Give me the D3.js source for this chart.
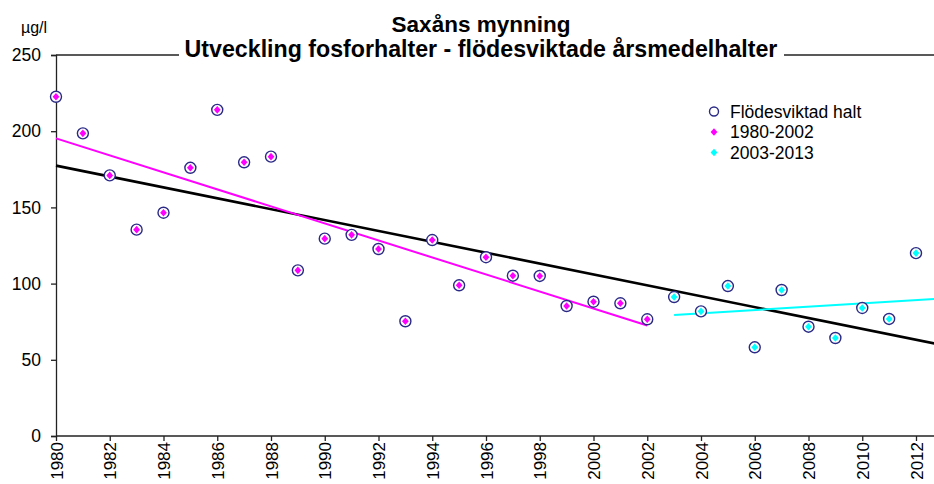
<!DOCTYPE html>
<html>
<head>
<meta charset="utf-8">
<script src="https://cdn.jsdelivr.net/npm/d3@7"></script>
<style>
  html, body { margin: 0; padding: 0; background: #fff; }
  svg { display: block; }
  text { font-family: Arial, "Liberation Sans", sans-serif; fill: #000; }
</style>
</head>
<body>
<svg id="chart" width="934" height="484"></svg>
<script>
// ---- Data ----
const years = [1980,1981,1982,1983,1984,1985,1986,1987,1988,1989,1990,1991,1992,1993,1994,1995,1996,1997,1998,1999,2000,2001,2002,2003,2004,2005,2006,2007,2008,2009,2010,2011,2012];
const values = [222.6,198.6,171,135.4,146.5,176,214,179.6,183.3,108.7,129.5,132,122.7,75.3,128.6,98.9,117.3,105.2,105,85.3,88.1,87.1,76.6,91.2,81.8,98.4,58.2,95.8,71.7,64.3,84,76.8,120];
const period1Years = [1980, 2002];   // magenta period
const period2Years = [2003, 2013];   // cyan period
const trendAll = [[1980, 177.4], [2013, 59.6]];
const trendP1  = [[1980, 195.3], [2002, 72.5]];
const trendP2  = [[2003, 79.4], [2013, 90.3]];
const xTickYears = [1980,1982,1984,1986,1988,1990,1992,1994,1996,1998,2000,2002,2004,2006,2008,2010,2012];
const yTicks = [0,50,100,150,200,250];
const titleLines = ["Saxåns mynning", "Utveckling fosforhalter - flödesviktade årsmedelhalter"];
const unitLabel = "µg/l";
const legendLabels = ["Flödesviktad halt", "1980-2002", "2003-2013"];

// ---- Layout ----
const svg = d3.select("#chart");
const x = d3.scaleLinear().domain([1980, 2012]).range([56, 916]);
const y = d3.scaleLinear().domain([0, 250]).range([436, 55]);
const MAG = "#ff00ff", CYAN = "#00ffff", RING = "#2a2a86";
const FONT = "Arial, 'Liberation Sans', sans-serif";

// top border line of plot area
svg.append("line")
  .attr("x1", x(1980)).attr("x2", 934)
  .attr("y1", y(250)).attr("y2", y(250))
  .attr("stroke", "#222").attr("stroke-width", 1.3);

// Y axis
const yAxis = d3.axisLeft(y).tickValues(yTicks).tickSize(5).tickPadding(10).tickFormat(d3.format("d"));
const gy = svg.append("g").attr("transform", `translate(${x(1980)},0)`).call(yAxis);
gy.select(".domain").attr("stroke", "#222").attr("stroke-width", 1.3);
gy.selectAll(".tick line").attr("stroke", "#222").attr("stroke-width", 1.3);
gy.selectAll(".tick text").style("font-size", "17.5px").style("font-family", FONT).attr("fill", "#000");

// X axis
const xAxis = d3.axisBottom(x).tickValues(xTickYears).tickSize(5).tickFormat(d3.format("d"));
const gx = svg.append("g").attr("transform", `translate(0,${y(0)})`).call(xAxis);
gx.select(".domain").attr("d", `M${x(1980)},0H934`).attr("stroke", "#222").attr("stroke-width", 1.3);
gx.selectAll(".tick line").attr("stroke", "#222").attr("stroke-width", 1.3);
gx.selectAll(".tick text")
  .style("font-size", "17px").style("font-family", FONT).attr("fill", "#000")
  .attr("text-anchor", "end")
  .attr("transform", "rotate(-90)")
  .attr("x", -6).attr("y", 0).attr("dy", "0.36em");

// Trend lines
const line = d3.line().x(d => x(d[0])).y(d => y(d[1]));
svg.append("path").datum(trendAll).attr("d", line).attr("fill", "none").attr("stroke", "#000").attr("stroke-width", 2.6);
svg.append("path").datum(trendP1).attr("d", line).attr("fill", "none").attr("stroke", MAG).attr("stroke-width", 2);
svg.append("path").datum(trendP2).attr("d", line).attr("fill", "none").attr("stroke", CYAN).attr("stroke-width", 2);

// Points
const pts = years.map((yr, i) => ({ yr, v: values[i] }));
const colorFor = yr => (yr >= period1Years[0] && yr <= period1Years[1]) ? MAG : CYAN;
const diamond = "M0,-3.8L3.4,0L0,3.8L-3.4,0Z";
const g = svg.append("g");
g.selectAll("circle.ring").data(pts).join("circle")
  .attr("class", "ring")
  .attr("cx", d => x(d.yr)).attr("cy", d => y(d.v)).attr("r", 5.5)
  .attr("fill", "#fff").attr("stroke", RING).attr("stroke-width", 1.4);
g.selectAll("path.dia").data(pts).join("path")
  .attr("class", "dia")
  .attr("transform", d => `translate(${x(d.yr)},${y(d.v)})`)
  .attr("d", diamond).attr("fill", d => colorFor(d.yr));

// Title with white backing over the top border
svg.append("rect").attr("x", 179).attr("y", 40).attr("width", 605).attr("height", 26).attr("fill", "#fff");
svg.append("text").attr("x", 481).attr("y", 31.5).attr("text-anchor", "middle")
  .style("font-size", "22.5px").style("font-weight", "bold").text(titleLines[0]);
svg.append("text").attr("x", 481).attr("y", 57).attr("text-anchor", "middle")
  .style("font-size", "23.2px").style("font-weight", "bold").text(titleLines[1]);

// Unit label
svg.append("text").attr("x", 21).attr("y", 33).style("font-size", "16px").text(unitLabel);

// Legend
const lx = 714, ly = 111.5, ls = 20.5;
svg.append("circle").attr("cx", lx).attr("cy", ly).attr("r", 4.5)
  .attr("fill", "#fff").attr("stroke", RING).attr("stroke-width", 1.4);
svg.append("path").attr("transform", `translate(${lx},${ly + ls})`).attr("d", diamond).attr("fill", MAG);
svg.append("path").attr("transform", `translate(${lx},${ly + 2 * ls})`).attr("d", diamond).attr("fill", CYAN);
legendLabels.forEach((t, i) => {
  svg.append("text").attr("x", 730).attr("y", ly + i * ls + 6).style("font-size", "17.5px").text(t);
});
</script>
</body>
</html>
